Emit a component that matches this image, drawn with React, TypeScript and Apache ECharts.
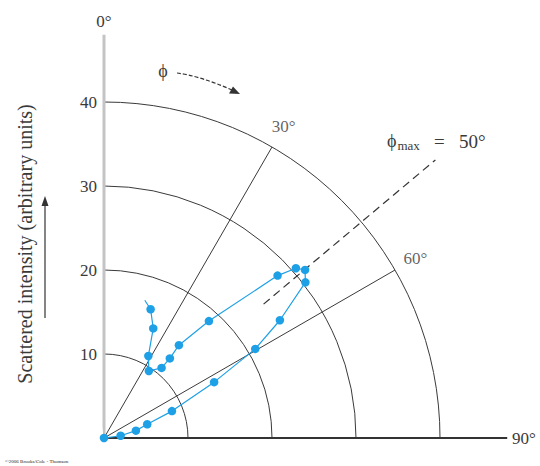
import React, { useEffect, useRef } from "react";
import * as echarts from "echarts";

// Angle ticks (degrees) and radial intensity ticks
const angleTicks = [0, 30, 60, 90];
const radiusTicks = [0, 10, 20, 30, 40];
const axisExtent = 48; // how far the two axes run past the 40 ring

// Measured scattered intensity (arbitrary units) vs scattering angle phi (deg)
const intensity = [0, 2.0, 3.9, 5.4, 8.7, 14.7, 20.9, 25.2, 30.3, 31.2, 30.5, 28.3, 18.7, 14.2, 12.3, 10.8, 9.6, 11.1, 14.3, 16.3, 17.1];
const phi = [90, 82.2, 77.0, 72.4, 68.4, 63.1, 59.5, 56.2, 52.3, 50.1, 48.5, 46.9, 41.9, 38.9, 39.6, 39.4, 33.8, 28.4, 24.2, 19.9, 16.5];

const phiMax = 50;
const phiMaxSpan = [24.8, 51.5];
const innerAngleLabels = [30, 60];
const innerLabelRadius = 42.8;

const SERIF = "'Liberation Serif', 'DejaVu Serif', serif";
const BLUE = "#1ea0e6";
const INK = "#3a3a3a";
const PX_PER_UNIT = 8.4;
const CENTER = [104, 438];

export default function App() {
  const ref = useRef<HTMLDivElement>(null);
  useEffect(() => {
    if (!ref.current) return;
    const chart = echarts.init(ref.current, undefined, { renderer: "svg" });
    const curve = intensity.map((r, i) =>
      i === intensity.length - 1
        ? { value: [r, phi[i]], symbol: "none" }
        : { value: [r, phi[i]] }
    );
    const rMax = radiusTicks[radiusTicks.length - 1];
    const outerMax = 52;
    chart.setOption({
      animation: false,
      backgroundColor: "#ffffff",
      polar: [
        { center: CENTER, radius: rMax * PX_PER_UNIT },
        { center: CENTER, radius: outerMax * PX_PER_UNIT },
      ],
      angleAxis: [
        {
          polarIndex: 0,
          type: "value",
          min: angleTicks[0],
          max: angleTicks[angleTicks.length - 1],
          interval: 30,
          startAngle: 90,
          endAngle: 0,
          clockwise: true,
          axisLine: { show: false },
          axisTick: { show: false },
          splitLine: { show: true, lineStyle: { color: INK, width: 1 } },
          axisLabel: {
            margin: 72,
            fontFamily: SERIF,
            fontSize: 17,
            color: INK,
            formatter: (v: number) => (v === 0 || v === 90 ? `${v}°` : ""),
          },
        },
        {
          polarIndex: 1,
          type: "value",
          min: -10,
          max: 100,
          startAngle: 100,
          endAngle: -10,
          clockwise: true,
          axisLine: { show: false },
          axisTick: { show: false },
          splitLine: { show: false },
          axisLabel: { show: false },
        },
      ],
      radiusAxis: [
        {
          polarIndex: 0,
          type: "value",
          min: radiusTicks[0],
          max: rMax,
          interval: 10,
          axisLine: { show: false },
          axisTick: { show: false },
          splitLine: { show: true, lineStyle: { color: INK, width: 1 } },
          axisLabel: {
            margin: 7,
            fontFamily: SERIF,
            fontSize: 17,
            color: INK,
            formatter: (v: number) => (v === 0 ? "" : String(v)),
          },
        },
        {
          polarIndex: 1,
          type: "value",
          min: 0,
          max: outerMax,
          axisLine: { show: false },
          axisTick: { show: false },
          splitLine: { show: false },
          axisLabel: { show: false },
        },
      ],
      series: [
        {
          type: "line",
          coordinateSystem: "polar",
          polarIndex: 1,
          symbol: "none",
          silent: true,
          z: 3,
          lineStyle: { color: "#c4c4c4", width: 3 },
          data: [
            [0, angleTicks[0]],
            [axisExtent, angleTicks[0]],
          ],
        },
        {
          type: "line",
          coordinateSystem: "polar",
          polarIndex: 1,
          symbol: "none",
          silent: true,
          z: 3,
          lineStyle: { color: "#333", width: 1.8 },
          data: [
            [0, angleTicks[3]],
            [axisExtent, angleTicks[3]],
          ],
        },
        {
          type: "line",
          coordinateSystem: "polar",
          polarIndex: 1,
          symbol: "none",
          silent: true,
          z: 3,
          lineStyle: { color: "#333", width: 1.2, type: [8, 5] },
          data: phiMaxSpan.map((r) => [r, phiMax]),
        },
        {
          type: "scatter",
          coordinateSystem: "polar",
          polarIndex: 1,
          symbolSize: 0,
          silent: true,
          z: 3,
          label: {
            show: true,
            position: "inside",
            fontFamily: SERIF,
            fontSize: 17,
            color: INK,
            formatter: (p: any) => `${p.value[1]}°`,
          },
          data: innerAngleLabels.map((a) => [innerLabelRadius, a]),
        },
        {
          type: "line",
          coordinateSystem: "polar",
          polarIndex: 0,
          symbol: "circle",
          symbolSize: 8.5,
          z: 5,
          itemStyle: { color: BLUE },
          lineStyle: { color: BLUE, width: 1.2 },
          data: curve,
        },
      ],
      graphic: [
        {
          type: "text",
          x: 25,
          y: 244,
          rotation: Math.PI / 2,
          style: {
            text: "Scattered intensity (arbitrary units)",
            font: `20px ${SERIF}`,
            fill: INK,
            align: "center",
            verticalAlign: "middle",
          },
        },
        {
          type: "line",
          shape: { x1: 45, y1: 318, x2: 45, y2: 204 },
          style: { stroke: "#333", lineWidth: 1.2 },
        },
        {
          type: "polygon",
          shape: { points: [[45, 196], [41.5, 206], [48.5, 206]] },
          style: { fill: "#333" },
        },
        {
          type: "text",
          x: 163,
          y: 71,
          style: {
            text: "ϕ",
            font: `18px ${SERIF}`,
            fill: INK,
            align: "center",
            verticalAlign: "middle",
          },
        },
        {
          type: "bezierCurve",
          shape: { x1: 177, y1: 73, cpx1: 200, cpy1: 76, x2: 232, y2: 90 },
          style: { stroke: "#333", lineWidth: 1.2, lineDash: [4, 2], fill: "none" },
        },
        {
          type: "polygon",
          shape: { points: [[240, 94], [229, 93.5], [233, 86.5]] },
          style: { fill: "#333" },
        },
        {
          type: "text",
          x: 387,
          y: 141,
          style: {
            text: "{p|ϕ}{s|max}{e|   =   50°}",
            fill: INK,
            verticalAlign: "middle",
            rich: {
              p: { font: `18px ${SERIF}`, fill: INK },
              s: { font: `13px ${SERIF}`, fill: INK, padding: [8, 0, 0, 1] },
              e: { font: `19px ${SERIF}`, fill: INK },
            },
          },
        },
        {
          type: "text",
          x: 5,
          y: 461,
          style: {
            text: "©2006 Brooks/Cole - Thomson",
            font: `5px ${SERIF}`,
            fill: "#222",
            verticalAlign: "middle",
          },
        },
      ],
    });
    return () => chart.dispose();
  }, []);
  return (
    <div
      ref={ref}
      style={{ position: "absolute", left: 0, top: 0, width: 540, height: 466 }}
    />
  );
}
